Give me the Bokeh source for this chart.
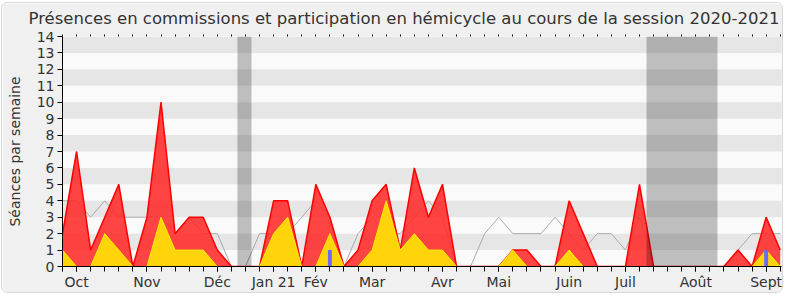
from bokeh.plotting import figure
from bokeh.models import Range1d, FixedTicker, LinearAxis
from bokeh.embed import file_html
from bokeh.resources import INLINE

# ---- data (one value per week, session 2020-2021) ----
semaines = list(range(52))
presences_commission = [2, 7, 1, 3, 5, 0, 3, 10, 2, 3, 3, 1, 0, 0, 0,
                        4, 4, 0, 5, 3, 0, 1, 4, 5, 1, 6, 3, 5, 0, 0, 0, 0, 1,
                        1, 0, 0, 4, 2, 0, 0, 0, 5, 0, 0, 0, 0, 0, 0, 1, 0, 3, 1]
interventions_commission = [1, 0, 0, 2, 1, 0, 0, 3, 1, 1, 1, 0, 0, 0, 0,
                            2, 3, 0, 0, 2, 0, 0, 1, 4, 1, 2, 1, 1, 0, 0, 0, 0, 1,
                            0, 0, 0, 1, 0, 0, 0, 0, 0, 0, 0, 0, 0, 0, 0, 0, 0, 1, 0]
mediane_deputes = [4, 4, 3, 4, 3, 3, 3, 3, 2, 3, 2, 2, 0, 0, 2,
                   2, 2, 3, 4, 3, 0, 2, 3, 2, 2, 3, 4, 3, 0, 0, 2, 3, 2,
                   2, 2, 3, 2, 1, 2, 2, 1, 3, 0, 0, 0, 0, 0, 0, 1, 2, 2, 2]
interventions_hemicycle = [0, 0, 0, 0, 0, 0, 0, 0, 0, 0, 0, 0, 0, 0, 0,
                           0, 0, 0, 0, 1, 0, 0, 0, 0, 0, 0, 0, 0, 0, 0, 0, 0, 0,
                           0, 0, 0, 0, 0, 0, 0, 0, 0, 0, 0, 0, 0, 0, 0, 0, 0, 1, 0]
mois_pos = [1, 6, 11, 15, 18, 22, 27, 31, 36, 40, 45, 50]
mois_lab = ["Oct", "Nov", "Déc", "Jan 21", "Fév", "Mar", "Avr", "Mai",
            "Juin", "Juil", "Août", "Sept"]
vacances_debut = [12.43, 41.5]
vacances_fin = [13.43, 46.54]
y_ticks = list(range(0, 15))
titre = "Présences en commissions et participation en hémicycle au cours de la session 2020-2021"

FONT = "DejaVu Sans"
TXT = "#333333"

p = figure(width=782, height=291, x_range=Range1d(0, 51.09), y_range=Range1d(0, 14),
           output_backend="svg", toolbar_location=None,
           min_border_left=60, min_border_right=3, min_border_top=33, min_border_bottom=28,
           background_fill_color="#fafafa", border_fill_color="#f0f0f0",
           outline_line_color=None, margin=(2, 5, 5, 1),
           styles={"border": "1px solid #d8d8d8", "border-radius": "6px", "overflow": "hidden"})
p.xaxis.visible = False
p.yaxis.visible = False
p.grid.visible = False

# title
p.title.text = titre
p.title.align = "left"
p.title.vertical_align = "top"
p.title.offset = -34
p.title.standoff = 9
p.title.text_line_height = 0.7
p.title.text_font = FONT
p.title.text_font_size = "16.5px"
p.title.text_font_style = "normal"
p.title.text_color = TXT

# horizontal stripes
odd = [v for v in y_ticks[1:] if v % 2 == 1]
p.quad(left=-5, right=60, bottom=odd, top=[v + 1 for v in odd],
       fill_color="#e6e6e6", line_color=None)

# median line
p.line(semaines, mediane_deputes, line_color="#aaaaaa", line_width=1)

# presences (red)
p.varea(x=semaines, y1=0, y2=presences_commission, fill_color="#ff2a2a", fill_alpha=0.88)
p.line(semaines, presences_commission, line_color="#ff0000", line_width=1.5)

# interventions (yellow)
p.varea(x=semaines, y1=0, y2=interventions_commission, fill_color="#ffd40a", fill_alpha=1.0)
p.line(semaines, interventions_commission, line_color="#ffee00", line_width=1)

# hemicycle (blue bars)
p.vbar(x=semaines, top=interventions_hemicycle, width=0.28,
       fill_color="#6a6aff", line_color=None)

# vacation bands
p.quad(left=vacances_debut, right=vacances_fin, bottom=0, top=14,
       fill_color="#000000", fill_alpha=0.24, line_color=None)

# axes
ax_b = LinearAxis(ticker=FixedTicker(ticks=mois_pos, minor_ticks=semaines),
                  major_label_overrides={k: v for k, v in zip(mois_pos, mois_lab)})
ax_b.major_tick_in = 0
ax_b.major_tick_out = 5
ax_b.minor_tick_in = 0
ax_b.minor_tick_out = 5
ax_b.axis_line_color = "#000000"
ax_b.major_tick_line_color = "#000000"
ax_b.minor_tick_line_color = "#000000"
ax_b.major_label_text_font = FONT
ax_b.major_label_text_font_size = "14px"
ax_b.major_label_text_color = TXT
ax_b.major_label_standoff = 2
p.add_layout(ax_b, "below")

# top axis: only small weekly tick marks, no labels
ax_t = LinearAxis(ticker=FixedTicker(ticks=[], minor_ticks=semaines))
ax_t.axis_line_color = None
ax_t.major_tick_line_color = None
ax_t.minor_tick_in = 0
ax_t.minor_tick_out = 2
ax_t.minor_tick_line_color = "#000000"
ax_t.major_label_standoff = 0
p.add_layout(ax_t, "above")

ax_l = LinearAxis(ticker=FixedTicker(ticks=y_ticks))
ax_l.axis_label = "Séances par semaine"
ax_l.axis_label_text_font = FONT
ax_l.axis_label_text_font_size = "14px"
ax_l.axis_label_text_font_style = "normal"
ax_l.axis_label_text_color = TXT
ax_l.axis_label_standoff = 11
ax_l.major_tick_in = 0
ax_l.major_tick_out = 5
ax_l.minor_tick_line_color = None
ax_l.axis_line_color = "#000000"
ax_l.major_tick_line_color = "#000000"
ax_l.major_label_text_font = FONT
ax_l.major_label_text_font_size = "14px"
ax_l.major_label_text_color = TXT
ax_l.major_label_standoff = 3
p.add_layout(ax_l, "left")

open("out.html", "w").write(file_html(p, INLINE))
